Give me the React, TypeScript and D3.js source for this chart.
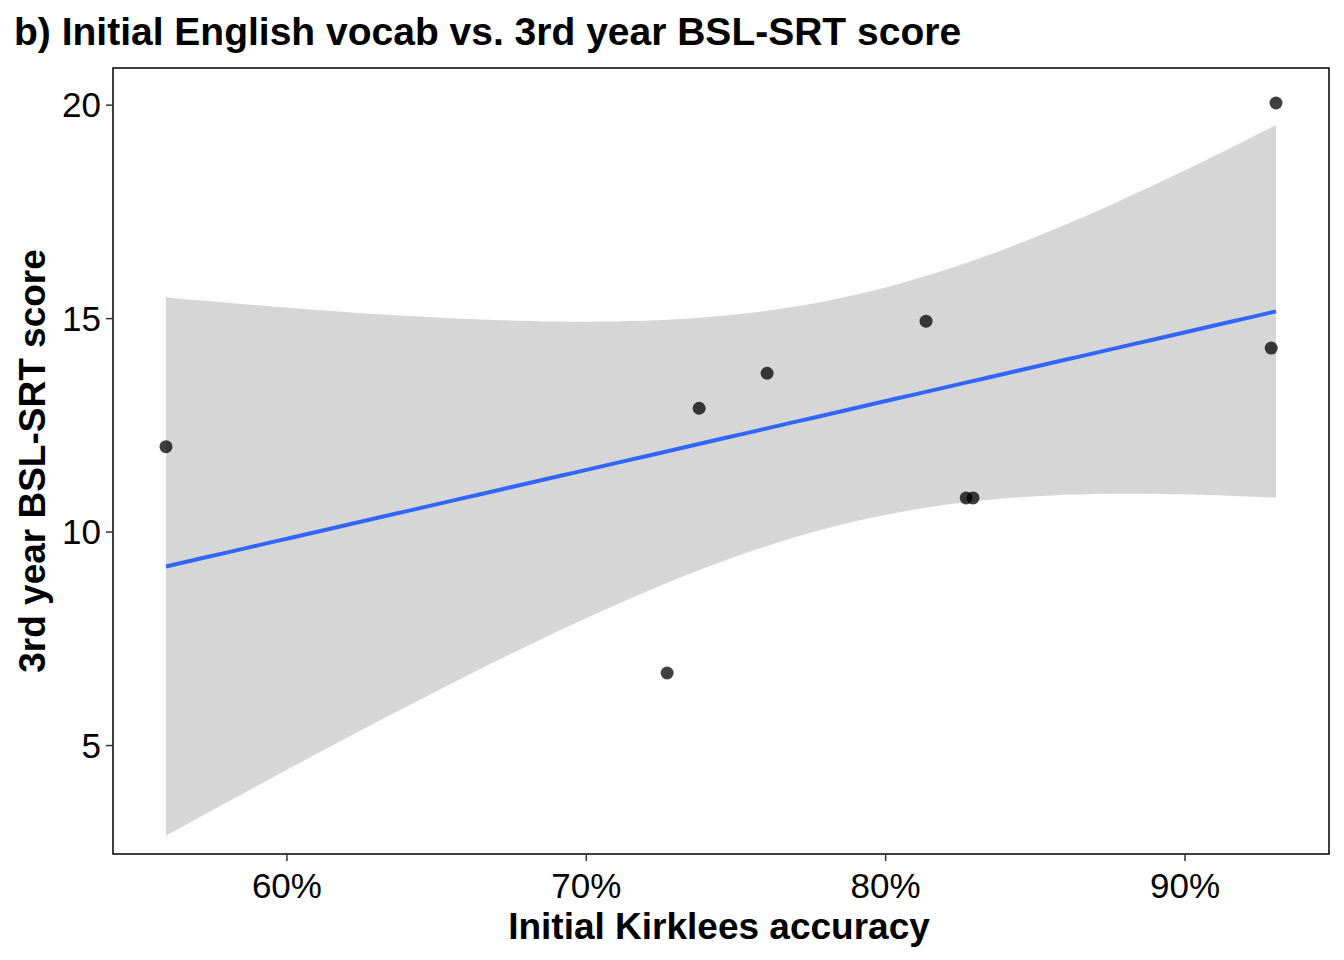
import React from "react";
import * as d3 from "d3";

const accuracy = [0.5596, 0.727, 0.7377, 0.7604, 0.8135, 0.8269, 0.8292, 0.9288, 0.9304];
const bslScore = [12.0, 6.7, 12.9, 13.72, 14.94, 10.8, 10.8, 14.31, 20.05];
const xTicks = [0.6, 0.7, 0.8, 0.9];
const yTicks = [5, 10, 15, 20];
const T_CRIT = 2.3646; // t(0.975, df=7)

export default function App() {
  const W = 1344, H = 960;
  const L = 113, R = 1329, T = 68, B = 854;
  const x = d3.scaleLinear().domain([0.5419, 0.9481]).range([L, R]);
  const y = d3.scaleLinear().domain([2.46, 20.87]).range([B, T]);

  const n = accuracy.length;
  const mx = d3.mean(accuracy)!, my = d3.mean(bslScore)!;
  let sxx = 0, sxy = 0;
  accuracy.forEach((a, i) => { sxx += (a - mx) ** 2; sxy += (a - mx) * (bslScore[i] - my); });
  const b1 = sxy / sxx, b0 = my - b1 * mx;
  let sse = 0;
  accuracy.forEach((a, i) => { sse += (bslScore[i] - (b0 + b1 * a)) ** 2; });
  const s = Math.sqrt(sse / (n - 2));
  const [xmin, xmax] = d3.extent(accuracy) as [number, number];
  const grid = d3.range(80).map(i => xmin + (xmax - xmin) * i / 79);
  const band = grid.map(g => {
    const f = b0 + b1 * g;
    const se = s * Math.sqrt(1 / n + (g - mx) ** 2 / sxx);
    return { g, f, lo: f - T_CRIT * se, hi: f + T_CRIT * se };
  });
  const area = d3.area<any>().x(d => x(d.g)).y0(d => y(d.lo)).y1(d => y(d.hi))(band)!;
  const line = d3.line<any>().x(d => x(d.g)).y(d => y(d.f))(band)!;
  const font = "'Liberation Sans', Arial, sans-serif";

  return (
    <svg width={W} height={H} style={{ position: "absolute", left: 0, top: 0, background: "white" }} fontFamily={font}>
      <text x={14} y={45} fontSize={39} fontWeight="bold">b) Initial English vocab vs. 3rd year BSL-SRT score</text>
      <path d={area} fill="#999999" fillOpacity={0.4} />
      <path d={line} fill="none" stroke="#3366FF" strokeWidth={4} />
      {accuracy.map((a, i) => (
        <circle key={i} cx={x(a)} cy={y(bslScore[i])} r={6.5} fill="black" fillOpacity={0.75} />
      ))}
      <rect x={L} y={T} width={R - L} height={B - T} fill="none" stroke="black" strokeWidth={1.5} />
      {xTicks.map(t => (
        <g key={t}>
          <line x1={x(t)} x2={x(t)} y1={B} y2={B + 7} stroke="#333" strokeWidth={1.5} />
          <text x={x(t)} y={B + 44} fontSize={35} textAnchor="middle" fill="black">{Math.round(t * 100)}%</text>
        </g>
      ))}
      {yTicks.map(t => (
        <g key={t}>
          <line x1={L - 7} x2={L} y1={y(t)} y2={y(t)} stroke="#333" strokeWidth={1.5} />
          <text x={L - 12} y={y(t) + 12} fontSize={35} textAnchor="end" fill="black">{t}</text>
        </g>
      ))}
      <text x={(L + R) / 2 - 2} y={939} fontSize={37} fontWeight="bold" textAnchor="middle">Initial Kirklees accuracy</text>
      <text transform={`translate(45, ${(T + B) / 2}) rotate(-90)`} fontSize={37} fontWeight="bold" textAnchor="middle">3rd year BSL-SRT score</text>
    </svg>
  );
}
